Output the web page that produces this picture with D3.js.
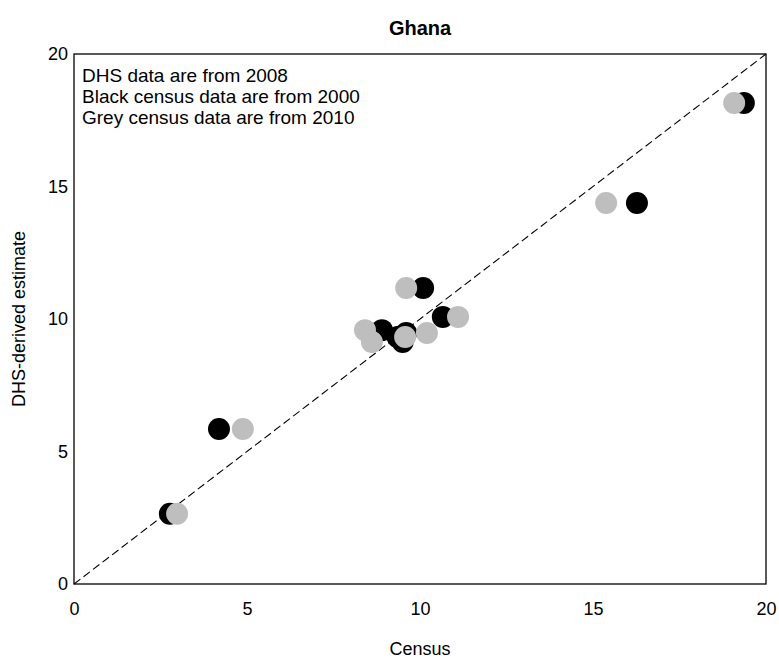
<!DOCTYPE html>
<html>
<head>
<meta charset="utf-8">
<script src="https://cdn.jsdelivr.net/npm/d3@7"></script>
<style>
  body { margin: 0; background: #fff; }
  svg text { font-family: "Liberation Sans", Arial, Helvetica, sans-serif; fill: #000; }
</style>
</head>
<body>
<div id="chart"></div>
<script>
// DHS-derived estimate (y) shared by each black/grey pair
var dhs = [2.65, 5.85, 18.15, 14.38, 11.17, 10.08, 9.58, 9.13, 9.32, 9.47];
// census values: black = 2000, grey = 2010
var census2000 = [2.77, 4.19, 19.36, 16.27, 10.09, 10.66, 8.90, 9.50, 9.35, 9.60];
var census2010 = [2.98, 4.88, 19.08, 15.38, 9.60, 11.10, 8.41, 8.61, 9.57, 10.20];
var ticks = [0, 5, 10, 15, 20];
var notes = ["DHS data are from 2008", "Black census data are from 2000", "Grey census data are from 2010"];

var width = 779, height = 664;
var margin = {top: 54, right: 13, bottom: 80, left: 74};

var svg = d3.select("#chart").append("svg")
  .attr("width", width)
  .attr("height", height);

var x = d3.scaleLinear().domain([0, 20]).range([margin.left, width - margin.right]);
var y = d3.scaleLinear().domain([0, 20]).range([height - margin.bottom, margin.top]);

// frame
svg.append("rect")
  .attr("x", x(0)).attr("y", y(20))
  .attr("width", x(20) - x(0)).attr("height", y(0) - y(20))
  .attr("fill", "none").attr("stroke", "#000").attr("stroke-width", 1.3);

// tick labels (no tick marks)
svg.append("g")
  .attr("transform", "translate(0," + y(0) + ")")
  .call(d3.axisBottom(x).tickValues(ticks).tickSize(0).tickPadding(18))
  .call(g => g.select(".domain").remove())
  .selectAll("text").style("font-size", "18px");

svg.append("g")
  .attr("transform", "translate(" + x(0) + ",0)")
  .call(d3.axisLeft(y).tickValues(ticks).tickSize(0).tickPadding(6))
  .call(g => g.select(".domain").remove())
  .selectAll("text").style("font-size", "18px");

// identity line
svg.append("line")
  .attr("x1", x(0)).attr("y1", y(0))
  .attr("x2", x(20)).attr("y2", y(20))
  .attr("stroke", "#000").attr("stroke-width", 1.1)
  .attr("stroke-dasharray", "8,4");

var pts = dhs.map(function(v, i) { return {y: v, a: census2000[i], b: census2010[i]}; });

svg.append("g").selectAll("circle")
  .data(pts).enter().append("circle")
  .attr("cx", d => x(d.a)).attr("cy", d => y(d.y))
  .attr("r", 11).attr("fill", "#000");

svg.append("g").selectAll("circle")
  .data(pts).enter().append("circle")
  .attr("cx", d => x(d.b)).attr("cy", d => y(d.y))
  .attr("r", 11).attr("fill", "#bebebe");

// notes
svg.append("g").selectAll("text")
  .data(notes).enter().append("text")
  .attr("x", x(0) + 8)
  .attr("y", (d, i) => 82 + i * 21)
  .style("font-size", "19px")
  .text(d => d);

// title and axis titles
svg.append("text")
  .attr("x", (x(0) + x(20)) / 2).attr("y", 35)
  .attr("text-anchor", "middle")
  .style("font-size", "20px").style("font-weight", "bold")
  .text("Ghana");

svg.append("text")
  .attr("x", (x(0) + x(20)) / 2).attr("y", 655)
  .attr("text-anchor", "middle")
  .style("font-size", "18px")
  .text("Census");

svg.append("text")
  .attr("transform", "translate(25," + ((y(0) + y(20)) / 2) + ") rotate(-90)")
  .attr("text-anchor", "middle")
  .style("font-size", "18px")
  .text("DHS-derived estimate");
</script>
</body>
</html>
